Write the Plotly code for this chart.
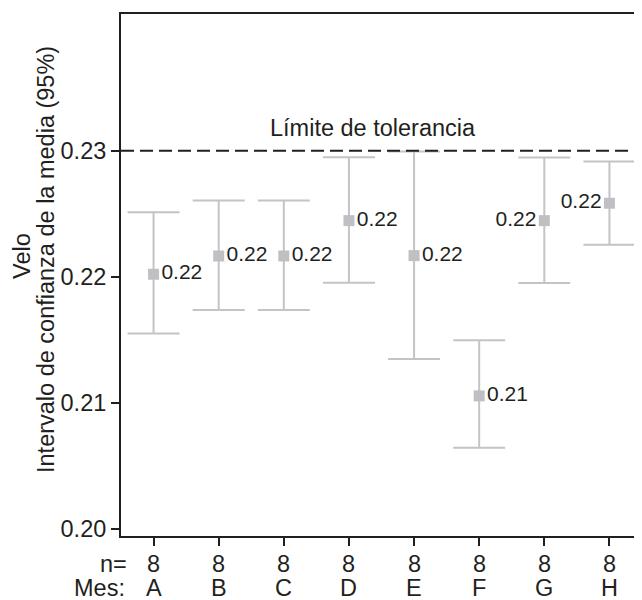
import math
import plotly.graph_objects as go

# ---- data ----
meses = ["A", "B", "C", "D", "E", "F", "G", "H"]
n_obs = [8, 8, 8, 8, 8, 8, 8, 8]
media = [0.22020, 0.22165, 0.22165, 0.22446, 0.22168, 0.21054, 0.22446, 0.22584]
ic_inf = [0.21550, 0.21736, 0.21736, 0.21953, 0.21346, 0.20641, 0.21950, 0.22255]
ic_sup = [0.22513, 0.22605, 0.22605, 0.22950, 0.22995, 0.21495, 0.22947, 0.22915]
limite = 0.23
y_ticks = [0.20, 0.21, 0.22, 0.23]
y_tick_text = ["0.20", "0.21", "0.22", "0.23"]

# ---- styles ----
FONT = "Liberation Sans, Arial, Helvetica, sans-serif"
FS = 23.5
TXT = "#231f20"
GRAY_BAR = "#c4c4c8"
GRAY_MK = "#c0c0c4"
label_pos = ["middle right"] * 6 + ["middle left"] * 2

# page body has an 8px margin; figure is sized/placed to compensate
OFF = 8
W, H = 642 - OFF, 600 - OFF
ML, MR, MT = 121 - OFF, 0, 14 - OFF
MB = H - (536 - OFF)
PW = W - ML - MR
PH = H - MT - MB


def px_x(page_x):
    return (page_x - OFF - ML)


def paper_y(page_y):
    return (H - MB - (page_y - OFF)) / PH


err_plus = [s - m for s, m in zip(ic_sup, media)]
err_minus = [m - i for m, i in zip(media, ic_inf)]
labels = [f"{math.floor(m * 100 + 1e-9) / 100:.2f}" for m in media]

fig = go.Figure()
fig.add_trace(go.Scatter(
    x=meses, y=media,
    mode="markers+text",
    marker=dict(symbol="square", size=11, color=GRAY_MK),
    error_y=dict(type="data", symmetric=False, array=err_plus, arrayminus=err_minus,
                 color=GRAY_BAR, thickness=2, width=26),
    text=labels,
    textposition=label_pos,
    textfont=dict(family=FONT, size=21, color=TXT),
    showlegend=False, hoverinfo="skip",
    cliponaxis=False,
))

# tolerance line
fig.add_shape(type="line", xref="paper", x0=0, x1=1, yref="y", y0=limite, y1=limite,
              line=dict(color=TXT, width=2, dash="13px,6px"))

annotations = []
annotations.append(dict(text="Límite de tolerancia", xref="paper", x=0, xshift=px_x(373),
                        yref="y", y=limite, yanchor="middle", xanchor="center", yshift=23,
                        showarrow=False, font=dict(family=FONT, size=FS, color=TXT)))

# bottom rows: n= and Mes:
for m, n in zip(meses, n_obs):
    annotations.append(dict(text=str(n), xref="x", x=m, yref="paper", y=paper_y(564),
                            yanchor="middle", xanchor="center",
                            showarrow=False, font=dict(family=FONT, size=FS, color=TXT)))
    annotations.append(dict(text=m, xref="x", x=m, yref="paper", y=paper_y(588),
                            yanchor="middle", xanchor="center",
                            showarrow=False, font=dict(family=FONT, size=FS, color=TXT)))
annotations.append(dict(text="n=", xref="paper", x=0, xshift=px_x(129), yref="paper",
                        y=paper_y(564), yanchor="middle", xanchor="right",
                        showarrow=False, font=dict(family=FONT, size=FS, color=TXT)))
annotations.append(dict(text="Mes:", xref="paper", x=0, xshift=px_x(127), yref="paper",
                        y=paper_y(588), yanchor="middle", xanchor="right",
                        showarrow=False, font=dict(family=FONT, size=FS, color=TXT)))

# y-axis title (two lines)
annotations.append(dict(text="Velo", xref="paper", x=0, xshift=px_x(22), yref="paper",
                        y=paper_y(256), textangle=-90, xanchor="center", yanchor="middle",
                        showarrow=False, font=dict(family=FONT, size=FS, color=TXT)))
annotations.append(dict(text="Intervalo de confianza de la media (95%)", xref="paper", x=0,
                        xshift=px_x(46), yref="paper", y=paper_y(260), textangle=-90,
                        xanchor="center", yanchor="middle",
                        showarrow=False, font=dict(family=FONT, size=FS, color=TXT)))

fig.update_layout(
    width=W, height=H,
    margin=dict(l=ML, r=MR, t=MT, b=MB, pad=0),
    paper_bgcolor="white", plot_bgcolor="white",
    font=dict(family=FONT, size=FS, color=TXT),
    annotations=annotations,
    xaxis=dict(type="category", categoryorder="array", categoryarray=meses,
               range=[-0.5, 7.5], showgrid=False, zeroline=False,
               showline=True, linecolor=TXT, linewidth=2, mirror=True,
               ticks="outside", ticklen=8, tickwidth=2, tickcolor=TXT,
               showticklabels=False),
    yaxis=dict(range=[0.19941, 0.24087], tickvals=y_ticks, ticktext=y_tick_text,
               showgrid=False, zeroline=False,
               showline=True, linecolor=TXT, linewidth=2, mirror=False,
               ticks="outside", ticklen=8, tickwidth=2, tickcolor=TXT,
               tickfont=dict(family=FONT, size=FS, color=TXT)),
)

fig.write_html("out.html")
